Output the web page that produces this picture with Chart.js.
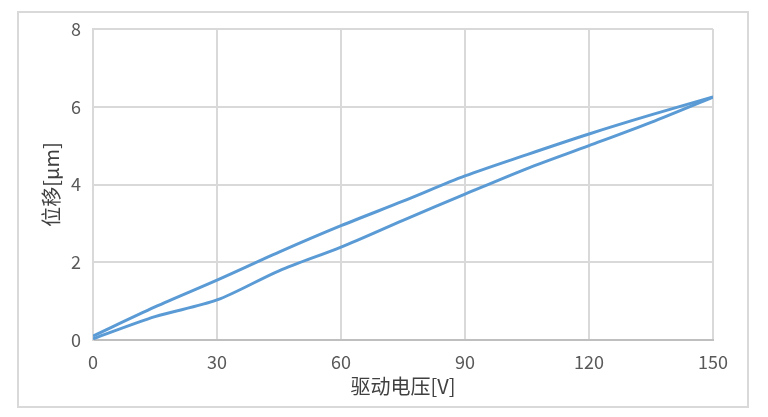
<!DOCTYPE html>
<html>
<head>
<meta charset="utf-8">
<script src="https://cdn.jsdelivr.net/npm/chart.js@4"></script>
<style>
  html, body { margin: 0; padding: 0; background: #fff; }
  #wrap { position: relative; width: 768px; height: 417px; }
  #frame {
    position: absolute; left: 17px; top: 11px;
    width: 728px; height: 393px;
    border: 2px solid #d9d9d9;
    pointer-events: none;
  }
</style>
</head>
<body>
<div id="wrap">
  <canvas id="chart" width="768" height="417"></canvas>
  <div id="frame"></div>
</div>
<script>
// 驱动电压 [V]
const voltage = [0, 15, 30, 45, 60, 75, 90, 105, 120, 135, 150];
// 升压 (lower branch) and 降压 (upper branch), 位移 [μm]
const riseDisp = [0.03, 0.6, 1.03, 1.78, 2.39, 3.08, 3.75, 4.41, 5.0, 5.6, 6.25];
const fallDisp = [0.1, 0.85, 1.54, 2.26, 2.94, 3.57, 4.22, 4.77, 5.3, 5.79, 6.25];

const xTicks = [0, 30, 60, 90, 120, 150];
const yTicks = [0, 2, 4, 6, 8];

const fontFamily = '"Noto Sans CJK SC", "Microsoft YaHei", sans-serif';

const risePoints = voltage.map((v, i) => ({ x: v, y: riseDisp[i] }));
const fallPoints = voltage.map((v, i) => ({ x: v, y: fallDisp[i] })).reverse();

const lineStyle = {
    showLine: true,
    borderColor: '#5b9bd5',
    backgroundColor: '#5b9bd5',
    borderWidth: 3,
    pointRadius: 0,
    tension: 0.3,
    fill: false,
};

const ctx = document.getElementById('chart').getContext('2d');
const chart = new Chart(ctx, {
    type: 'scatter',
    data: {
        datasets: [
            { label: '升压', data: risePoints, ...lineStyle },
            { label: '降压', data: fallPoints, ...lineStyle },
        ]
    },
    options: {
        responsive: false,
        animation: false,
        layout: { padding: { left: 0, right: 55, top: 29, bottom: 0 } },
        plugins: {
            legend: { display: false },
            tooltip: { enabled: false },
        },
        scales: {
            x: {
                type: 'linear',
                min: 0,
                max: 150,
                afterBuildTicks: s => { s.ticks = xTicks.map(v => ({ value: v })); },
                afterFit: s => { s.height = 77; },
                grid: { color: '#d9d9d9', lineWidth: 2, drawTicks: false },
                border: { color: '#bfbfbf', width: 2 },
                ticks: {
                    color: '#595959',
                    padding: 11,
                    font: { family: fontFamily, size: 18 },
                },
                title: {
                    display: true,
                    text: '驱动电压[V]',
                    color: '#404040',
                    font: { family: fontFamily, size: 20 },
                    padding: { top: 0, bottom: 19 },
                },
            },
            y: {
                min: 0,
                max: 8,
                afterBuildTicks: s => { s.ticks = yTicks.map(v => ({ value: v })); },
                afterFit: s => { s.width = 93; },
                grid: { color: '#d9d9d9', lineWidth: 2, drawTicks: false },
                border: { color: '#d9d9d9', width: 2 },
                ticks: {
                    color: '#595959',
                    padding: 12,
                    font: { family: fontFamily, size: 18 },
                },
                title: {
                    display: true,
                    text: '位移[μm]',
                    color: '#404040',
                    font: { family: fontFamily, size: 20 },
                    padding: { top: 39, bottom: 0 },
                },
            },
        },
    },
});
</script>
</body>
</html>
